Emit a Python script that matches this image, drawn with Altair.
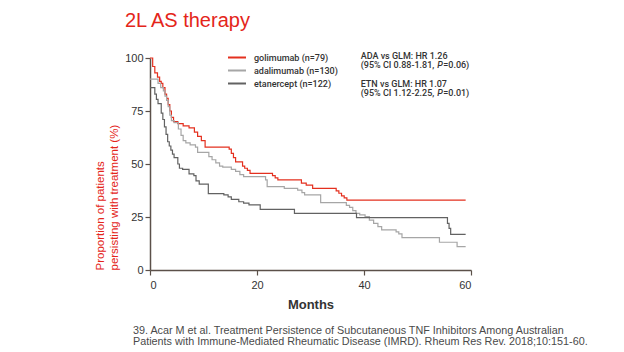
import altair as alt
import pandas as pd

# ---- data (months, % persisting) ----
drugs = ["golimumab (n=79)", "adalimumab (n=130)", "etanercept (n=122)"]
colors = ["#e4301f", "#a6a6a6", "#626262"]

gol_t = [0, 0.5, 0.9, 1.4, 1.8, 2.1, 2.4, 2.8, 3.1, 3.4, 3.7, 4.0, 4.4, 5.2, 6.2, 7.3,
         8.3, 8.9, 9.6, 10.3, 14.8, 15.2, 15.6, 16.0, 17.3, 17.7, 18.2, 18.7, 22.9, 23.4,
         23.9, 28.3, 29.2, 30.4, 34.8, 35.3, 35.8, 36.3, 36.8, 59]
gol_v = [100, 96, 93, 91, 89, 88, 86, 83, 81, 78, 75, 72, 70, 69, 68, 67,
         65, 63, 61, 58, 57, 55, 53, 51, 49, 48, 47, 45.6, 44.5, 43.5,
         42.5, 41, 40, 38.5, 37.3, 36.2, 35, 34, 33, 33]

ada_t = [0, 1.5, 2.0, 2.5, 2.8, 3.1, 3.4, 3.7, 4.0, 4.5, 5.3, 5.8, 6.2, 6.7, 7.5, 8.5,
         8.9, 11.0, 11.6, 12.3, 13.0, 13.6, 15.2, 16.0, 16.8, 17.5, 21.6, 21.9, 25.1, 27.6,
         28.4, 28.9, 31.9, 36.7, 37.3, 37.9, 38.5, 39.2, 40.2, 41.0, 41.8, 42.6, 43.3, 46.0,
         46.5, 47.1, 54.1, 57.4, 59]
ada_v = [90, 88, 86, 84.5, 82, 80, 77, 73, 70.5, 69.5, 66.5, 63.5, 61, 60, 59, 58,
         55.5, 53.5, 52, 50.5, 49, 48.5, 47.5, 46.5, 45, 44, 42.5, 39.3, 38.5, 37.7,
         36.5, 35.4, 31.8, 30.5, 29.5, 28, 26.7, 26, 25.2, 23.5, 22, 20.5, 18.9, 18,
         17, 15.3, 13.1, 11, 11]

etn_t = [0, 0.9, 1.2, 1.5, 2.1, 2.4, 2.7, 3.0, 3.3, 3.6, 3.9, 4.2, 4.5, 5.2, 5.5, 6.1,
         7.3, 8.2, 8.6, 9.2, 10.9, 13.8, 14.6, 15.2, 16.6, 17.5, 18.5, 20.6, 27.0, 38.6,
         55.6, 55.9, 56.2, 59]
etn_v = [86, 83, 80.5, 78.5, 74, 71, 67.5, 64, 60.5, 58.5, 56.5, 54.7, 53, 50, 48, 47.5,
         45.3, 44.5, 42, 40.5, 36, 35.4, 34.5, 33.3, 32.2, 31.5, 30.7, 28.6, 26.7, 24.7,
         22, 19.6, 16.8, 16.8]

x_ticks = [0, 20, 40, 60]
y_ticks = [0, 25, 50, 75, 100]

rows = []
for name, ts, vs in [(drugs[0], gol_t, gol_v), (drugs[1], ada_t, ada_v), (drugs[2], etn_t, etn_v)]:
    for t, v in zip(ts, vs):
        rows.append({"drug": name, "month": t, "pct": v})
df = pd.DataFrame(rows)

AX = "#5b5049"
RED = "#e4251a"
FONT = "Liberation Sans"
MFONT = "Roboto"

lines = alt.Chart(df).mark_line(interpolate="step-after", strokeWidth=1.2).encode(
    x=alt.X("month:Q", scale=alt.Scale(domain=[0, 60], nice=False),
            axis=alt.Axis(values=x_ticks, title="Months", titleFontWeight="bold",
                          titleFontSize=13, titleColor="#333333", titlePadding=8,
                          labelPadding=4)),
    y=alt.Y("pct:Q", scale=alt.Scale(domain=[0, 100], nice=False),
            axis=alt.Axis(values=y_ticks,
                          title=["Proportion of patients", "persisting with treatment (%)"],
                          titleColor=RED, titleFontSize=11.5, titleFontWeight="normal",
                          titleAnchor="start", titleLineHeight=14.4, titlePadding=5,
                          labelPadding=2)),
    color=alt.Color("drug:N", scale=alt.Scale(domain=drugs, range=colors),
                    legend=alt.Legend(title=None, orient="none", legendX=77, legendY=-6,
                                      symbolType="stroke", symbolSize=324,
                                      symbolStrokeWidth=2, labelFont=MFONT,
                                      labelFontWeight=500, labelFontSize=9,
                                      labelColor="#333333", clipHeight=11, rowPadding=2,
                                      padding=0, labelOffset=7)),
)

def txt(s, x, y, size=9, weight=500, font=MFONT, color="#333333", style="normal", align="left"):
    return alt.Chart(pd.DataFrame({"t": [s]})).mark_text(
        align=align, baseline="alphabetic", font=font, fontSize=size, fontWeight=weight,
        fontStyle=style, color=color
    ).encode(x=alt.value(x), y=alt.value(y), text="t:N")

ax0 = 210.7
layers = [
    lines,
    txt("2L AS therapy", -25, -30.7, size=20, weight="normal", font=FONT, color=RED),
    txt("ADA vs GLM: HR 1.26", ax0, 1),
    txt("(95% CI 0.88-1.81,", ax0, 10.3),
    txt("P", ax0 + 76.5, 10.3, style="italic"),
    txt("=0.06)", ax0 + 82.5, 10.3),
    txt("ETN vs GLM: HR 1.07", ax0, 28.7),
    txt("(95% CI 1.12-2.25,", ax0, 38.3),
    txt("P", ax0 + 76.5, 38.3, style="italic"),
    txt("=0.01)", ax0 + 82.5, 38.3),
    txt("39. Acar M et al. Treatment Persistence of Subcutaneous TNF Inhibitors Among Australian",
        -17, 275.7, size=10.8, weight="normal", font=FONT, color="#4a4a4a"),
    txt("Patients with Immune-Mediated Rheumatic Disease (IMRD). Rheum Res Rev. 2018;10:151-60.",
        -17, 286.6, size=10.8, weight="normal", font=FONT, color="#4a4a4a"),
]

chart = alt.layer(*layers).properties(
    width=321, height=212,
    autosize=alt.AutoSizeParams(type="none"),
    padding={"left": 150, "top": 58, "right": 153, "bottom": 82},
    background="white",
).configure_view(stroke=None).configure_axis(
    grid=False, domainColor=AX, domainWidth=1.5, tickColor=AX, tickWidth=1.2, tickSize=5,
    labelFont=FONT, labelFontSize=11, labelColor="#333333", titleFont=FONT,
)

chart.save("out.html", embed_options={"renderer": "svg", "actions": False})
